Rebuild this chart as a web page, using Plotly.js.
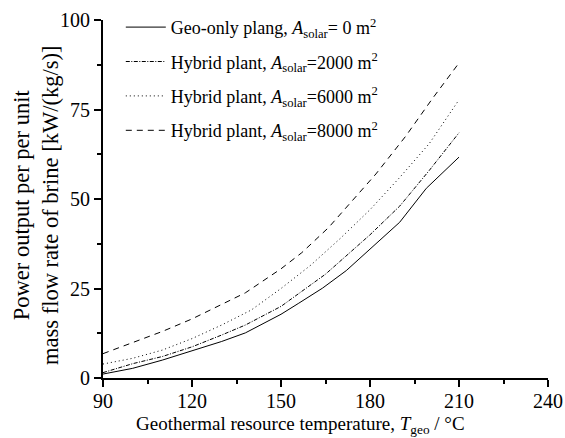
<!DOCTYPE html>
<html>
<head>
<meta charset="utf-8">
<script src="https://cdn.plot.ly/plotly-3.0.1.min.js"></script>
<style>html,body{margin:0;padding:0;background:#fff;}#chart{width:565px;height:438px;}</style>
</head>
<body>
<div id="chart"></div>
<script>
// Data
var tGeoOnly = [90, 100, 110, 120, 130, 138, 150, 156, 164, 172, 180, 190, 199, 210];
var pGeoOnly = [1.1, 2.7, 5.0, 7.5, 10.2, 12.6, 17.8, 20.9, 25.1, 30, 36, 43.5, 53, 61.7];

var tHyb2000 = [90, 100, 110, 120, 130, 138, 150, 156, 165, 180, 190, 200, 210];
var pHyb2000 = [1.5, 4.0, 6.0, 8.7, 12.0, 14.8, 20.0, 23.5, 29.0, 40.0, 48.0, 58.0, 68.5];

var tHyb6000 = [90, 100, 110, 120, 130, 140, 150, 160, 170, 180, 190, 200, 210];
var pHyb6000 = [3.9, 5.5, 7.8, 11.0, 14.8, 19.0, 25.0, 31.5, 39.0, 47.0, 56.0, 65.5, 77.7];

var tHyb8000 = [90, 100, 110, 120, 130, 138, 150, 157, 166, 175, 182, 192, 201, 210];
var pHyb8000 = [6.8, 9.8, 13.0, 16.5, 20.5, 23.8, 30.5, 35.0, 42.0, 50.5, 57.0, 67.5, 78.0, 88.0];

var seriesNames = [
  'Geo-only plang, <i>A</i><sub>solar</sub>= 0 m<sup>2</sup>',
  'Hybrid plant, <i>A</i><sub>solar</sub>=2000 m<sup>2</sup>',
  'Hybrid plant, <i>A</i><sub>solar</sub>=6000 m<sup>2</sup>',
  'Hybrid plant, <i>A</i><sub>solar</sub>=8000 m<sup>2</sup>'
];
var xTicks = [90, 120, 150, 180, 210, 240];
var yTicks = [0, 25, 50, 75, 100];
var xTitle = 'Geothermal resource temperature, <i>T</i><sub>geo</sub> / °C';
var yTitle = 'Power output per per unit<br>mass flow rate of brine [kW/(kg/s)]';

var FONT = 'Liberation Serif, serif';

var traces = [
  {x: tGeoOnly, y: pGeoOnly, name: seriesNames[0], line: {color: '#000', width: 1, dash: 'solid'}},
  {x: tHyb2000, y: pHyb2000, name: seriesNames[1], line: {color: '#000', width: 1, dash: '4px,1.5px,1px,1.5px'}},
  {x: tHyb6000, y: pHyb6000, name: seriesNames[2], line: {color: '#000', width: 1, dash: '1px,3px'}},
  {x: tHyb8000, y: pHyb8000, name: seriesNames[3], line: {color: '#000', width: 1, dash: '6px,5px'}}
].map(function (t, i) { t.type = 'scatter'; t.mode = 'lines'; t.legendgroup = 'g' + i; return t; });

var layout = {
  width: 565, height: 438,
  margin: {l: 103, r: 17, t: 20, b: 60, autoexpand: false},
  paper_bgcolor: '#fff', plot_bgcolor: '#fff',
  font: {family: FONT, size: 18, color: '#000'},
  showlegend: true,
  legend: {
    x: 0.04, y: 1.031, xanchor: 'left', yanchor: 'top',
    bgcolor: 'rgba(0,0,0,0)', borderwidth: 0,
    font: {family: FONT, size: 18, color: '#000'},
    itemwidth: 40,
    tracegroupgap: 8
  },
  xaxis: {
    range: [90, 240], tickvals: xTicks, ticktext: xTicks.map(String),
    showgrid: false, zeroline: false, automargin: false,
    showline: true, linecolor: '#000', linewidth: 2,
    ticks: 'outside', ticklen: 7, tickwidth: 2, tickcolor: '#000',
    minor: {ticks: 'outside', ticklen: 4, tickwidth: 2, tickcolor: '#000', dtick: 15, tick0: 90, showgrid: false},
    tickfont: {family: FONT, size: 20},
    ticklabelstandoff: -3
  },
  yaxis: {
    range: [0, 100], tickvals: yTicks, ticktext: yTicks.map(String),
    showgrid: false, zeroline: false, automargin: false,
    showline: true, linecolor: '#000', linewidth: 2,
    ticks: 'outside', ticklen: 7, tickwidth: 2, tickcolor: '#000',
    minor: {ticks: 'outside', ticklen: 4, tickwidth: 2, tickcolor: '#000', dtick: 12.5, tick0: 0, showgrid: false},
    tickfont: {family: FONT, size: 20}
  },
  annotations: [
    {
      xref: 'paper', yref: 'paper', x: 0.443, y: -0.13, xanchor: 'center', yanchor: 'middle',
      text: xTitle, showarrow: false, font: {family: FONT, size: 19, color: '#000'}
    },
    {
      xref: 'paper', yref: 'paper', x: -0.151, y: 0.483, xanchor: 'center', yanchor: 'middle',
      textangle: -90, text: yTitle, showarrow: false,
      font: {family: FONT, size: 22.5, color: '#000'}
    }
  ]
};

Plotly.newPlot('chart', traces, layout, {displayModeBar: false, staticPlot: true});
</script>
</body>
</html>
